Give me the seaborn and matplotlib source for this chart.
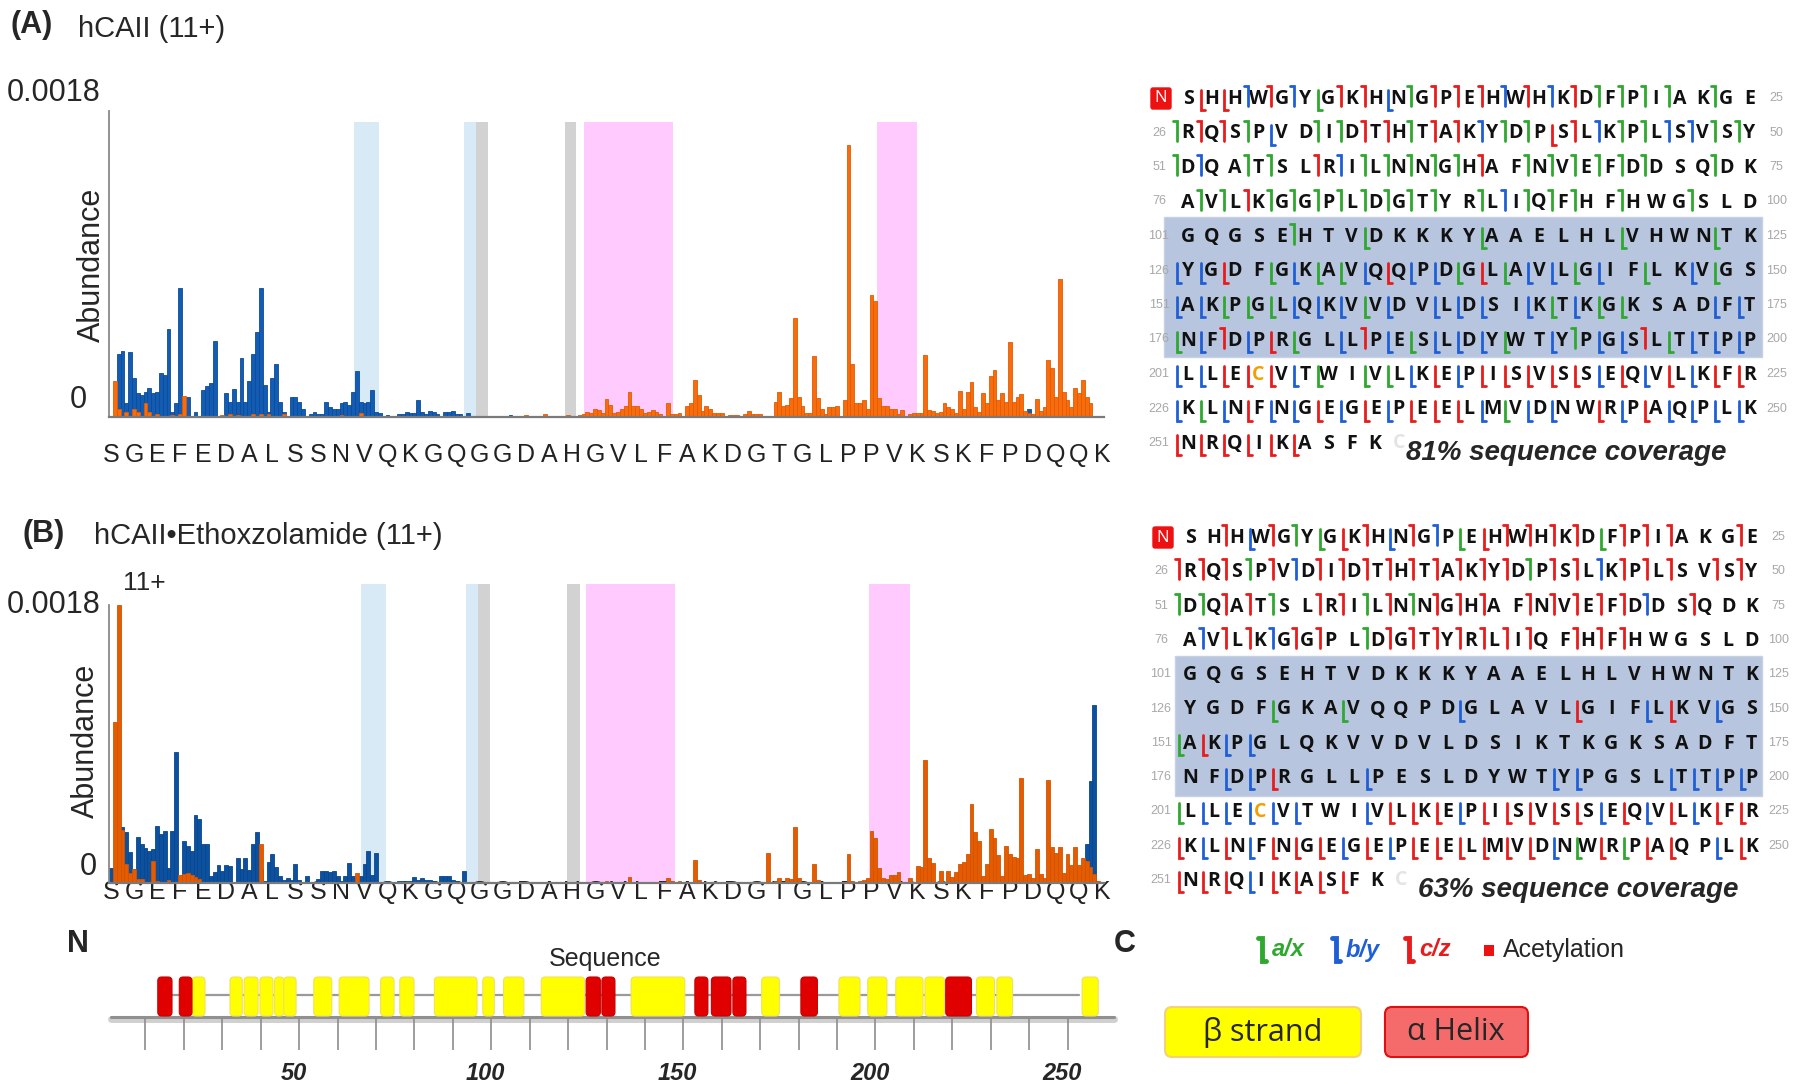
import numpy as np
import pandas as pd
import matplotlib
matplotlib.use("Agg")
import matplotlib.pyplot as plt
import seaborn as sns
from matplotlib.patches import FancyBboxPatch, Rectangle

# fragment abundance per cleavage site (units of 1e-4), residues 1-258
a_orange = [0, 2.1, 0.5, 0, 0.3, 0, 0.5, 0.3, 0, 0.8,
            0.3, 0, 0.2, 0, 0, 0, 0.1, 0, 0.2, 1.25,
            0, 0, 0, 0, 0, 0, 0, 0, 0, 0.1,
            0, 0.2, 0, 0.1, 0, 0, 0, 0.2, 0, 0.2,
            0, 0.2, 0, 0, 0, 0.2, 0, 0, 0, 0,
            0, 0, 0, 0, 0, 0, 0, 0, 0, 0,
            0.1, 0, 0, 0, 0, 0.25, 0, 0, 0, 0,
            0, 0, 0, 0, 0, 0, 0, 0, 0, 0,
            0, 0, 0, 0, 0, 0, 0, 0, 0, 0,
            0, 0, 0, 0, 0, 0, 0, 0, 0, 0,
            0, 0, 0, 0, 0, 0, 0, 0, 0.1, 0,
            0, 0, 0, 0.2, 0, 0, 0, 0, 0, 0.1,
            0, 0, 0.1, 0.15, 0.3, 0.25, 0.5, 0.4, 0.25, 1.05,
            0.7, 0.25, 0.3, 0.45, 0.65, 1.5, 0.65, 0.65, 0.5, 0.25,
            0.3, 0.4, 0.3, 0.15, 0, 0.85, 0.15, 0.2, 0.25, 0,
            0.65, 0.8, 2.15, 1.3, 0.35, 0.65, 0.45, 0.25, 0.25, 0.25,
            0, 0.1, 0.1, 0.1, 0, 0.15, 0.35, 0.2, 0.15, 0.15,
            0, 0, 0, 0.9, 1.45, 0.65, 0.7, 1.1, 5.8, 1.2,
            0.65, 0.25, 0.25, 3.6, 1.1, 0.45, 0.2, 0.6, 0.6, 0.65,
            0, 1.0, 16.0, 3.1, 0.85, 0.85, 1.0, 0.45, 7.2, 6.8,
            1.1, 0.65, 0.65, 0.5, 0.45, 0.15, 0.4, 0, 0.15, 0.25,
            0.25, 0.25, 3.65, 0.4, 0.35, 0.25, 0.3, 0.8, 0.6, 0.5,
            0.25, 1.55, 0.45, 1.5, 2.05, 0.6, 0.3, 1.4, 0.85, 2.4,
            2.75, 1.0, 1.4, 0.9, 4.4, 0.9, 1.2, 1.35, 0.35, 0.25,
            0.15, 1.05, 0.35, 0.6, 3.35, 2.9, 1.2, 8.1, 1.5, 1.0,
            0.6, 1.7, 1.4, 2.2, 1.2, 0.8, 0, 0]

a_blue = [0, 0, 3.7, 3.9, 0.8, 3.8, 2.3, 1.4, 1.3, 1.45,
          1.7, 1.4, 1.5, 2.6, 2.5, 5.2, 0.3, 0.8, 7.6, 1.2,
          1.2, 0, 0.3, 0, 1.6, 1.8, 2.0, 4.5, 0, 0,
          1.4, 0.9, 1.65, 0.9, 3.5, 0.9, 2.1, 3.7, 5.0, 7.6,
          1.9, 0.3, 2.3, 3.1, 0.9, 0.3, 0, 1.2, 1.2, 0.9,
          0.45, 0, 0.15, 0.3, 0.2, 0.2, 0.9, 0.6, 0.5, 0.5,
          0.8, 0.9, 0.7, 1.5, 2.7, 0.9, 0.8, 0.9, 1.6, 0.3,
          0.25, 0, 0.1, 0, 0, 0.15, 0.2, 0.3, 0.25, 0.25,
          1.0, 0.3, 0.2, 0.35, 0.3, 0.2, 0, 0.3, 0.3, 0.35,
          0.2, 0.15, 0, 0.25, 0, 0, 0.08, 0, 0, 0,
          0, 0, 0, 0, 0.1, 0, 0, 0, 0, 0,
          0, 0, 0, 0, 0, 0, 0, 0, 0, 0,
          0, 0, 0, 0, 0, 0, 0, 0, 0, 0,
          0, 0, 0, 0, 0, 0, 0, 0, 0, 0,
          0, 0, 0, 0, 0, 0, 0, 0, 0, 0,
          0, 0, 0, 0, 0, 0, 0, 0, 0, 0,
          0, 0, 0, 0, 0, 0, 0, 0, 0, 0,
          0, 0, 0, 0, 0, 0, 0, 0, 0, 0,
          0, 0, 0, 0, 0, 0, 0, 0, 0, 0,
          0, 0, 0, 0, 0, 0, 0, 0, 0, 0,
          0, 0, 0, 0, 0, 0, 0, 0, 0, 0,
          0, 0, 0, 0, 0, 0, 0, 0, 0, 0,
          0, 0, 0, 0, 0, 0, 0, 0, 0, 0,
          0, 0, 0, 0, 0, 0, 0, 0, 0, 0.5,
          0, 0, 0, 0, 0, 0, 0, 0, 0, 0,
          0, 0, 0, 0, 0, 0, 0, 0]

b_orange = [0, 10.4, 18.0, 3.45, 1.25, 0.65, 0.9, 0.25, 0.25, 0,
            0, 1.4, 0.1, 0, 0, 0.2, 0, 0, 0.55, 0.6,
            0.65, 0.5, 0.4, 0.25, 0, 0, 0, 0, 0, 0,
            0, 0.05, 0, 0, 0, 0, 0, 0, 0, 2.5,
            0, 0, 0, 0, 0.05, 0, 0, 0, 0, 0,
            0, 0, 0, 0, 0, 0, 0, 0, 0, 0,
            0, 0, 0, 0, 0.65, 0, 0, 0, 0, 0,
            0, 0, 0, 0, 0, 0, 0, 0, 0, 0,
            0, 0, 0, 0, 0, 0, 0, 0, 0, 0,
            0, 0, 0, 0, 0, 0, 0, 0, 0, 0,
            0, 0, 0, 0, 0, 0, 0, 0, 0, 0,
            0, 0, 0, 0, 0, 0, 0, 0, 0, 0,
            0, 0, 0, 0, 0, 0, 0, 0, 0, 0.1,
            0, 0, 0, 0, 0, 0.4, 0, 0, 0, 0,
            0, 0, 0, 0, 0, 0.3, 0.1, 0, 0.1, 0,
            0.05, 0.05, 1.5, 0.2, 0, 0.05, 0, 0, 0, 0,
            0, 0, 0, 0, 0, 0, 0, 0, 0, 0,
            0, 1.95, 0, 0.1, 0.35, 0, 0.35, 0.25, 3.65, 0.35,
            0, 0, 0, 1.25, 0.2, 0, 0, 0, 0, 0,
            0, 0, 1.85, 0.1, 0, 0.1, 0.2, 0.35, 3.4, 2.9,
            0.95, 0.3, 0.25, 0.55, 0.5, 0.7, 0, 0, 0.3, 0.05,
            1.1, 1.05, 7.95, 1.6, 1.3, 0.05, 0.8, 0.05, 0.8, 0.4,
            0.7, 1.25, 1.35, 1.9, 5.1, 3.3, 2.7, 0.45, 1.2, 3.5,
            2.9, 1.8, 0.45, 2.4, 1.85, 1.7, 1.6, 6.8, 0.5, 0.6,
            0.3, 2.2, 0.6, 0.3, 6.7, 2.3, 1.95, 2.35, 0.65, 1.9,
            1.15, 2.3, 1.15, 1.65, 1.4, 1.05, 0.6, 0.1]

b_blue = [1.0, 1.0, 3.7, 3.6, 3.3, 2.0, 0.9, 3.0, 2.5, 2.25,
          2.05, 2.2, 3.7, 3.2, 3.4, 1.0, 3.4, 8.5, 0.25, 2.75,
          2.4, 2.05, 4.4, 4.15, 2.5, 2.5, 0.45, 0.7, 1.15, 0.8,
          1.15, 1.1, 0, 1.6, 0.9, 1.6, 0.85, 2.55, 3.3, 0.9,
          0.1, 1.35, 1.9, 1.05, 0.45, 0.2, 0.3, 0.2, 1.2, 0.2,
          0, 0.45, 0, 0.05, 0.25, 0.8, 0.8, 0.7, 0.75, 0.45,
          0.15, 0.45, 1.3, 0.45, 0.4, 0.45, 1.2, 2.1, 0.55, 1.95,
          0, 0, 0.1, 0, 0, 0.15, 0.15, 0.1, 0.15, 0.4,
          0.2, 0.3, 0.2, 0.2, 0.15, 0, 0.45, 0.45, 0.45, 0.2,
          0.1, 0, 0.75, 0, 0, 0, 0, 0.05, 0, 0,
          0, 0, 0, 0, 0, 0, 0, 0, 0, 0,
          0, 0, 0, 0, 0, 0, 0, 0, 0, 0,
          0, 0, 0, 0, 0, 0, 0, 0, 0, 0,
          0, 0, 0, 0, 0, 0, 0, 0, 0, 0,
          0, 0, 0, 0, 0, 0, 0, 0, 0, 0,
          0, 0, 0, 0, 0, 0, 0, 0, 0, 0,
          0, 0, 0, 0, 0, 0, 0, 0, 0, 0,
          0, 0, 0, 0, 0, 0, 0, 0, 0, 0,
          0, 0, 0, 0, 0, 0, 0, 0, 0, 0,
          0, 0, 0, 0, 0, 0, 0, 0, 0, 0,
          0, 0, 0, 0, 0, 0, 0, 0, 0, 0,
          0, 0, 0, 0, 0, 0, 0, 0, 0, 0,
          0, 0, 0, 0, 0, 0, 0, 0, 0, 0,
          0, 0, 0, 0, 0, 0, 0, 0, 0, 0,
          0, 0, 0, 0, 0, 0, 0, 0, 0, 0,
          0, 0, 0, 0, 2.55, 6.6, 11.5, 0]

residues = np.arange(1, 259)
tick_residues = np.arange(1, 260, 6)
tick_letters = list("SGEFEDALSSNVQKGQGGDAHGVLFAKDGTGLPPVKSKFPDQQK")

# shaded regions (residue ranges)
a_lightblue = [(64.2, 70.8), (92.9, 96.0)]
a_gray = [(96.0, 99.2), (119.2, 122.0)]
a_pink = [(124.1, 147.2), (200.5, 210.8)]
b_lightblue = [(66.0, 72.5), (93.3, 96.5)]
b_gray = [(96.5, 99.7), (119.8, 123.0)]
b_pink = [(124.7, 147.8), (198.4, 208.9)]

# secondary structure
helix_start = [13.2, 18.8, 124.7, 128.8, 153.0, 157.3, 162.9, 180.6, 218.3]
helix_end = [16.9, 22.1, 128.4, 132.2, 156.4, 162.4, 166.3, 184.9, 225.0]
strand_start = [22.1, 32.0, 35.7, 39.8, 43.6, 46.0, 53.8, 60.4, 71.2, 76.2, 85.2, 97.8,
                103.2, 113.0, 136.4, 170.4, 190.5, 198.0, 205.3, 212.9, 226.3, 231.6, 253.8]
strand_end = [25.5, 35.2, 39.3, 43.2, 46.0, 49.2, 58.5, 68.2, 74.7, 79.9, 96.3, 100.8,
              108.5, 124.3, 150.4, 175.0, 196.0, 203.0, 212.4, 218.0, 231.0, 235.7, 258.0]
track_ticks = np.arange(10, 251, 10)
track_labels = [50, 100, 150, 200, 250]

# sequence coverage maps
seq_rows = ["SHHWGYGKHNGPEHWHKDFPIAKGE", "RQSPVDIDTHTAKYDPSLKPLSVSY",
            "DQATSLRILNNGHAFNVEFDDSQDK", "AVLKGGPLDGTYRLIQFHFHWGSLD",
            "GQGSEHTVDKKKYAAELHLVHWNTK", "YGDFGKAVQQPDGLAVLGIFLKVGS",
            "AKPGLQKVVDVLDSIKTKGKSADFT", "NFDPRGLLPESLDYWTYPGSLTTPP",
            "LLECVTWIVLKEPISVSSEQVLKFR", "KLNFNGEGEPEELMVDNWRPAQPLK",
            "NRQIKASFK"]
# marker before each residue: upper case = N-terminal hook, lower case = C-terminal hook
marks_a = [".rrBRBgRRbGRRRBRBRGGGG.G.", "GRRGb.GGRRGRRBGGrRBGGBBGG",
           "GB.GG.RBGGGGGR.GGGGGG..G.", ".GGRGGGGGGGG.GBGGG.G..G..",
           ".....G..g....g.....g...g.", "bbr.gbggbrbbgrgbbgb.g.bg.",
           "bbgggbbbgb.bbb.bgbgg...bb", "gbRbrg.bRbgbbbg.bGbbRgbbb",
           "bbrrrbg.ggbrbrrrrrbrbrbrr", "bgbrbbrbrbrrrbgbb.rbrbbbb",
           "rrrrrr..."]
marks_b = ["..RbRGgrRbRBgrRRRRgRRR..R", "RRRGRBRRRRRRRRRGRRBRRR.RR",
           "GGRRG.RRGRGRRR.RRRRRB.R..", ".BRRBRR.GRRRRRRR.RRR.....",
           ".........................", "....g..g....b....r..br.b.",
           "grbb.....................", "..bbr...b.......bb...bbbb",
           "gbbbbb..brrrbrrrrrbrbrbrr", "rbrbrrrbrbrrrrrrbgrgrr.br",
           "rrrbrrrr."]
coverage_a = "81% sequence coverage"
coverage_b = "63% sequence coverage"

assert len(a_orange) == len(a_blue) == len(b_orange) == len(b_blue) == 258

sns.set_style("white")
plt.rcParams['font.family'] = ['Liberation Sans', 'DejaVu Sans']

fig = plt.figure(figsize=(18, 10.92), dpi=100)
W, H = 1800, 1092


def add_px_axes(x0, y_top, x1, y_bot):
    return fig.add_axes([x0 / W, 1 - y_bot / H, (x1 - x0) / W, (y_bot - y_top) / H])


def bar_panel(ax, orange, blue, lightblue, gray, pink, shade_top, ymax,
              o_col, o_edge, b_col, b_edge, pad):
    for lo, hi in lightblue:
        ax.axvspan(lo, hi, ymax=shade_top / ymax, color='#d9eaf7', lw=0, zorder=0)
    for lo, hi in gray:
        ax.axvspan(lo, hi, ymax=shade_top / ymax, color='#d2d2d2', lw=0, zorder=0)
    for lo, hi in pink:
        ax.axvspan(lo, hi, ymax=shade_top / ymax, color='#ffcbff', lw=0, zorder=0)
    df = pd.DataFrame({'residue': residues, 'orange': orange, 'blue': blue})
    sub_b = df[df['blue'] > 0]
    sub_o = df[df['orange'] > 0]
    sns.barplot(data=sub_b, x='residue', y='blue', native_scale=True, width=1,
                color=b_col, saturation=1, edgecolor=b_edge, linewidth=0.6,
                errorbar=None, ax=ax)
    sns.barplot(data=sub_o, x='residue', y='orange', native_scale=True, width=1,
                color=o_col, saturation=1, edgecolor=o_edge, linewidth=0.6,
                errorbar=None, ax=ax)
    ax.set_xlim(0.5, 259.5)
    ax.set_ylim(0, ymax)
    ax.set_xticks(tick_residues)
    ax.set_xticklabels(tick_letters, fontsize=18, color='#222222')
    ax.tick_params(axis='x', length=0, pad=pad)
    ax.set_yticks([])
    ax.set_xlabel('')
    ax.set_ylabel('')
    sns.despine(ax=ax)
    ax.spines['left'].set_bounds(0, 18)
    ax.spines['left'].set_color('#8a8a8a')
    ax.spines['left'].set_linewidth(1.3)
    ax.spines['bottom'].set_color('#7a7a7a')
    ax.spines['bottom'].set_linewidth(1.6)
    ax.patch.set_alpha(0)


ax_a = add_px_axes(109, 111, 1104, 417)
bar_panel(ax_a, a_orange, a_blue, a_lightblue, a_gray, a_pink, 17.35, 18,
          '#f76d0e', '#e45a00', '#135cb3', '#0c4b98', 19)

ax_b = add_px_axes(109, 582, 1104, 883)
bar_panel(ax_b, b_orange, b_blue, b_lightblue, b_gray, b_pink, 19.4, 19.5,
          '#e45c02', '#d65200', '#0b519e', '#0a4690', -2)

# secondary structure track
ax_t = add_px_axes(109, 960, 1104, 1092)
ax_t.set_xlim(0.5, 259.5)
ax_t.set_ylim(1092, 960)
ax_t.axis('off')
ax_t.plot([14, 253], [995, 995], color='#9a9a9a', lw=1.6, zorder=1)
ax_t.plot([1, 262], [1019, 1019], color='#d0d0d0', lw=5, zorder=1, clip_on=False)
ax_t.plot([1, 262], [1017, 1017], color='#909090', lw=2.2, zorder=2, clip_on=False)
ax_t.vlines(track_ticks, 1018, 1050, color='#8c8c8c', lw=1.2)
for v in track_labels:
    ax_t.text(v - 1.5, 1073, str(v), ha='center', va='center', fontsize=17,
              fontweight='bold', fontstyle='italic')
for s, e in zip(strand_start, strand_end):
    ax_t.add_patch(FancyBboxPatch((s, 977), e - s, 39,
                                  boxstyle='round,pad=0,rounding_size=1.0',
                                  mutation_aspect=3.84, facecolor='#ffff00',
                                  edgecolor='#f0e060', lw=0.8, zorder=3))
for s, e in zip(helix_start, helix_end):
    ax_t.add_patch(FancyBboxPatch((s, 977), e - s, 39,
                                  boxstyle='round,pad=0,rounding_size=1.0',
                                  mutation_aspect=3.84, facecolor='#e00000',
                                  edgecolor='#c80000', lw=0.8, zorder=4))

# overlay for text and sequence maps
ov = fig.add_axes([0, 0, 1, 1])
ov.set_xlim(0, W)
ov.set_ylim(H, 0)
ov.axis('off')

ov.text(11, 25, "(A)", fontsize=22, fontweight='bold', va='center')
ov.text(78, 29, "hCAII (11+)", fontsize=21, va='center')
ov.text(23, 534, "(B)", fontsize=22, fontweight='bold', va='center')
ov.text(94, 536, "hCAII\u2022Ethoxzolamide (11+)", fontsize=21, va='center')
ov.text(123, 583, "11+", fontsize=19, va='center')
for ytop, yzero, xzero, yab, xab in [(93, 400, 87, 265, 92), (605, 867, 97, 741, 86)]:
    ov.text(101, ytop, "0.0018", fontsize=22, ha='right', va='center')
    ov.text(xzero, yzero, "0", fontsize=22, ha='right', va='center')
    ov.text(xab, yab, "Abundance", fontsize=22, rotation=90, ha='center', va='center')

ov.text(78, 944, "N", fontsize=22, fontweight='bold', ha='center', va='center')
ov.text(1125, 944, "C", fontsize=22, fontweight='bold', ha='center', va='center')
ov.text(605, 959, "Sequence", fontsize=18, ha='center', va='center')

mark_colors = {'g': '#2fa82f', 'b': '#1f5fd6', 'r': '#e81c1c'}
seq_font = ['Open Sans', 'DejaVu Sans']


def draw_map(x0, y0, dx, dy, marks, box, coverage, cov_xy):
    ov.add_patch(Rectangle((box[0], box[1]), box[2] - box[0], box[3] - box[1],
                           facecolor='#b7c5de', edgecolor='#c6d1e6', lw=1, zorder=1))
    ov.add_patch(FancyBboxPatch((x0 - 37, y0 - 10), 20, 21,
                                boxstyle='round,pad=0,rounding_size=2',
                                facecolor='#ee1111', edgecolor='#ee1111', zorder=2))
    ov.text(x0 - 27, y0 + 0.5, "N", color='white', fontsize=12, ha='center',
            va='center', family=seq_font, zorder=3)
    for i, row in enumerate(seq_rows):
        y = y0 + i * dy
        if i > 0:
            ov.text(x0 - 29, y, str(25 * i + 1), fontsize=9, color='#a8a8a8',
                    ha='center', va='center', zorder=3)
        if i < 10:
            ov.text(x0 + 24 * dx + 27, y, str(25 * (i + 1)), fontsize=9,
                    color='#a8a8a8', ha='center', va='center', zorder=3)
        for j, aa in enumerate(row):
            x = x0 + j * dx
            col = '#f0a000' if aa == 'C' else '#111111'
            ov.text(x, y + 1, aa, fontsize=14, fontweight='bold', color=col,
                    family=seq_font, ha='center', va='center', zorder=3)
            m = marks[i][j]
            if m == '.':
                continue
            xm = x - dx / 2 + 1
            c = mark_colors[m.lower()]
            if m.isupper():
                ov.plot([xm - 4, xm, xm], [y - 12, y - 12, y + 8], color=c, lw=2,
                        solid_joinstyle='miter', zorder=3)
            else:
                ov.plot([xm, xm, xm + 4], [y - 8, y + 12, y + 12], color=c, lw=2,
                        solid_joinstyle='miter', zorder=3)
    ov.text(x0 + 9 * dx, y0 + 10 * dy, "C", fontsize=14, fontweight='bold',
            color='#e4e4e4', family=seq_font, ha='center', va='center', zorder=3)
    ov.text(cov_xy[0], cov_xy[1], coverage, fontsize=20, fontweight='bold',
            fontstyle='italic', ha='center', va='center', zorder=3)


draw_map(1188, 98, 23.4, 34.5, marks_a, (1164, 217, 1762, 357), coverage_a, (1566, 453))
draw_map(1190, 537, 23.4, 34.3, marks_b, (1175, 656, 1762, 796), coverage_b, (1578, 890))

# fragment legend
for xg, lab, key in [(1262, "a/x", 'g'), (1336, "b/y", 'b'), (1409, "c/z", 'r')]:
    c = mark_colors[key]
    ov.plot([xg - 4, xg, xg, xg + 4], [938, 938, 961, 961], color=c, lw=3.5,
            solid_joinstyle='miter')
    ov.text(xg + 10, 950, lab, color=c, fontsize=17, fontweight='bold',
            fontstyle='italic', va='center')
ov.add_patch(Rectangle((1484, 945), 10, 11, facecolor='#ee1111', edgecolor='none'))
ov.text(1503, 950, "Acetylation", fontsize=18, va='center')

ov.add_patch(FancyBboxPatch((1165, 1007), 196, 50, boxstyle='round,pad=0,rounding_size=7',
                            facecolor='#ffff00', edgecolor='#f3d27a', lw=1.5))
ov.text(1263, 1032, "\u03b2 strand", fontsize=22, ha='center', va='center', family=seq_font)
ov.add_patch(FancyBboxPatch((1385, 1007), 143, 50, boxstyle='round,pad=0,rounding_size=7',
                            facecolor='#f56b6b', edgecolor='#e01010', lw=1.5))
ov.text(1456, 1032, "\u03b1 Helix", fontsize=22, ha='center', va='center', family=seq_font)

fig.savefig("out.png", dpi=100)
